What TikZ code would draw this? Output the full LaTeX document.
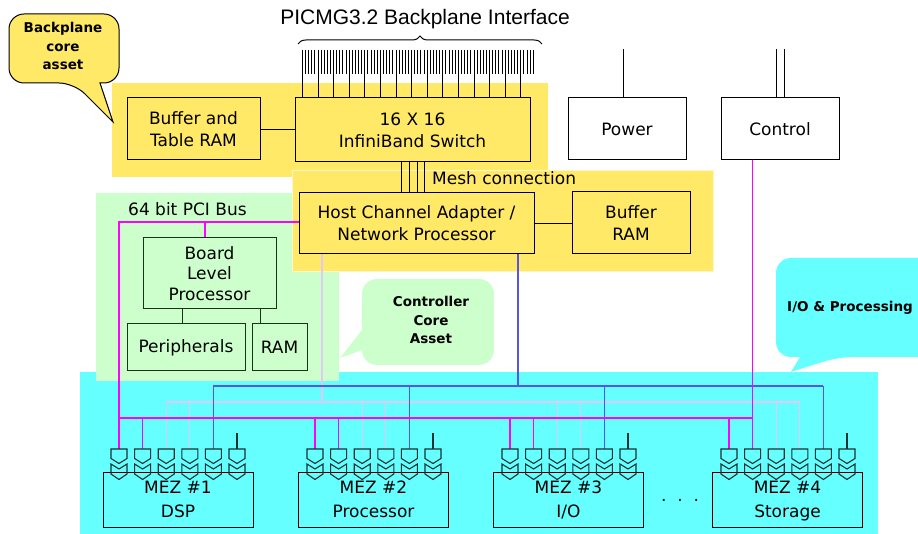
\documentclass[tikz,border=0pt]{standalone}
\usepackage{fontspec}
\setmainfont{DejaVu Sans}
\newfontfamily\titlefont{Liberation Sans}
\usetikzlibrary{decorations.pathreplacing}
\definecolor{ylw}{RGB}{255,233,102}
\definecolor{ylwedge}{RGB}{255,246,200}
\definecolor{grn}{RGB}{204,255,204}
\definecolor{cyn}{RGB}{102,255,255}
\definecolor{mag}{RGB}{255,0,255}
\definecolor{lav}{RGB}{226,200,245}
\definecolor{blu}{RGB}{85,85,230}
\definecolor{dkg}{RGB}{25,50,25}
\definecolor{plugc}{RGB}{25,50,50}
\begin{document}
\begin{tikzpicture}[x=1pt,y=-1pt,
  box/.style={draw, line width=1pt, inner sep=0pt, align=center, font=\fontsize{17}{22}\selectfont},
  gbox/.style={box, draw=dkg},
  lbl/.style={inner sep=0pt, font=\fontsize{17}{22}\selectfont},
  calltext/.style={inner sep=0pt, align=center, font=\bfseries\fontsize{13.5}{18.5}\selectfont},
  magw/.style={draw=mag, line width=1.4pt},
  lavw/.style={draw=lav, line width=1.2pt},
  bluw/.style={draw=blu, line width=1.3pt},
  thin/.style={draw=black, line width=0.9pt},
  plug/.pic={
    \draw[plugc, line width=1.1pt, line join=miter] (-8,0) -- (8,0) -- (8,9.5) -- (0,14.5) -- (-8,9.5) -- cycle;
    \draw[plugc, line width=1.1pt, line join=miter] (-8,15) -- (0,20) -- (8,15) -- (8,25) -- (0,30.5) -- (-8,25) -- cycle;
  }
]
\useasboundingbox (0,0) rectangle (918,534);
\clip (0,0) rectangle (918,534);

% background regions
\fill[cyn] (80,372) rectangle (878,534);
\fill[grn] (96,193) rectangle (339,381);
\fill[ylw] (112,83) rectangle (548,177);
\filldraw[fill=ylw, draw=ylwedge, line width=0.8pt] (292,170) rectangle (713,271);

% callouts
\filldraw[fill=ylw, draw=black, line width=1pt] (113,122) -- (100,83) [rounded corners=15pt] -- (119,83) -- (119,14) -- (9,14) -- (9,83) -- (74,83) [sharp corners] -- cycle;
\node[calltext] (cbp) at (63,46) {Backplane\\core\\asset};
\fill[grn] (340,358) -- (362,330) [rounded corners=15pt] -- (362,279) -- (494,279) -- (494,365) -- (362,365) [sharp corners] -- (362,350) -- cycle;
\node[calltext] (ccc) at (431,320) {Controller\\Core\\Asset};
\fill[cyn] (791,372) -- (800,357) [rounded corners=15pt] -- (776,357) -- (776,258) -- (960,258) -- (960,357) -- (838,357) [sharp corners] -- cycle;
\node[calltext] (cio) at (850,308) {I/O \& Processing};

% title and brace
\node[inner sep=0pt, font=\titlefont\fontsize{21}{24}\selectfont] (title) at (425,19) {PICMG3.2 Backplane Interface};
\draw[decorate, decoration={brace, amplitude=8pt}, line width=1pt] (298,44) -- (542,44);

% boxes
\node[box, minimum width=133pt, minimum height=62pt] (bt) at (193.5,129) {Buffer and\\Table RAM};
\node[box, minimum width=235pt, minimum height=64pt] (sw) at (412.5,130) {16 X 16\\InfiniBand Switch};
\node[box, fill=white, minimum width=118pt, minimum height=62pt] (pw) at (627,129) {Power};
\node[box, fill=white, minimum width=118pt, minimum height=62pt] (ct) at (780,129) {Control};
\node[box, minimum width=235pt, minimum height=61pt] (hca) at (416.5,223.5) {Host Channel Adapter /\\Network Processor};
\node[box, minimum width=118pt, minimum height=62pt] (br) at (631,223) {Buffer\\RAM};
\node[gbox, minimum width=133pt, minimum height=71pt, font=\fontsize{17}{20.5}\selectfont] (blp) at (209.5,273.5) {Board\\Level\\Processor};
\node[gbox, minimum width=118pt, minimum height=47pt] (per) at (186,347.5) {Peripherals};
\node[gbox, minimum width=55pt, minimum height=47pt] (ram) at (279.5,347.5) {RAM};
\node[lbl, anchor=west] (mesh) at (432,178) {Mesh connection};
\node[lbl, anchor=west] (pci) at (128,209) {64 bit PCI Bus};

% backplane bundle
\foreach \k in {0,...,74} {
  \pgfmathsetmacro\bxx{302.3+3.12*\k}
  \pgfmathtruncatemacro\mm{mod(\k,5)}
  \coordinate (bl) at (\bxx,50);
  \ifnum\mm=0
    \draw[line width=0.8pt] (bl) -- (bl |- sw.north);
  \else
    \draw[line width=0.8pt] (bl) -- ++(0,24);
  \fi
}

% simple connectors
\draw[thin] (bt.east) -- (bt.east -| sw.west);
\draw[thin] (hca.east) -- (hca.east -| br.west);
\foreach \mx in {401,409,417,424} {
  \coordinate (mc) at (\mx,0);
  \draw[thin] (sw.south -| mc) -- (hca.north -| mc);
}
\draw[thin] ([xshift=-4pt]pw.north) -- ++(0,-48);
\draw[thin] ([xshift=-4pt]ct.north) -- ++(0,-48);
\draw[thin] ([xshift=4pt]ct.north) -- ++(0,-48);
\coordinate (px) at (182,0);
\coordinate (rx) at (260,0);
\draw[draw=dkg, line width=1pt] (blp.south -| px) -- (per.north -| px);
\draw[draw=dkg, line width=1pt] (blp.south -| rx) -- (ram.north -| rx);

% mezzanine boxes
\node[box, minimum width=150pt, minimum height=55pt] (m1) at (178,499.5) {MEZ \#1\\[2pt]DSP};
\node[box, minimum width=150pt, minimum height=55pt] (m2) at (373.5,499.5) {MEZ \#2\\[2pt]Processor};
\node[box, minimum width=150pt, minimum height=55pt] (m3) at (568.5,499.5) {MEZ \#3\\[2pt]I/O};
\node[box, minimum width=150pt, minimum height=55pt] (m4) at (787.5,499.5) {MEZ \#4\\[2pt]\smash{Storage}};
\node[lbl] (dots) at (680,500) {.\ \ .\ \ .};

% connector tops
\foreach \i/\xo in {1/119,2/315,3/510,4/729} {
  \foreach \j in {1,...,6} {
    \coordinate (c\i-\j) at ({\xo+23.6*(\j-1)},449);
  }
}

% buses
\coordinate (mbus) at (0,418);
\coordinate (lbus) at (0,402);
\coordinate (bbus) at (0,386);
\coordinate (pcy) at (0,222);
\coordinate (brx) at (205,0);
\coordinate (lx) at (322,0);
\coordinate (bx) at (518,0);

\draw[lavw] (hca.south -| lx) -- (lx |- lbus);
\draw[lavw] (c1-3 |- lbus) -- (c4-4 |- lbus);
\foreach \c in {c1-3,c1-4,c2-3,c2-4,c3-3,c3-4,c4-3,c4-4} {
  \draw[lavw] (\c |- lbus) -- (\c);
}
\draw[bluw] (hca.south -| bx) -- (bx |- bbus);
\draw[bluw] (c1-5 |- bbus) -- (c4-5 |- bbus);
\foreach \c in {c1-5,c2-5,c3-5,c4-5} {
  \draw[bluw] (\c |- bbus) -- (\c);
}
\draw[magw] (hca.west |- pcy) -| (c1-1);
\draw[magw] (blp.north -| brx) -- (brx |- pcy);
\draw[magw] (ct.south -| c4-2) -- (c4-2);
\draw[magw] (c1-1 |- mbus) -- (c4-2 |- mbus);
\foreach \c in {c1-2,c2-1,c2-2,c3-1,c3-2,c4-1} {
  \draw[magw] (\c |- mbus) -- (\c);
}
\foreach \i in {1,...,4} {
  \draw[plugc, line width=1.1pt] (c\i-6) -- ++(0,-16);
}

% plugs
\foreach \i in {1,...,4} {
  \foreach \j in {1,...,6} {
    \pic at (c\i-\j) {plug};
  }
}
\end{tikzpicture}
\end{document}
